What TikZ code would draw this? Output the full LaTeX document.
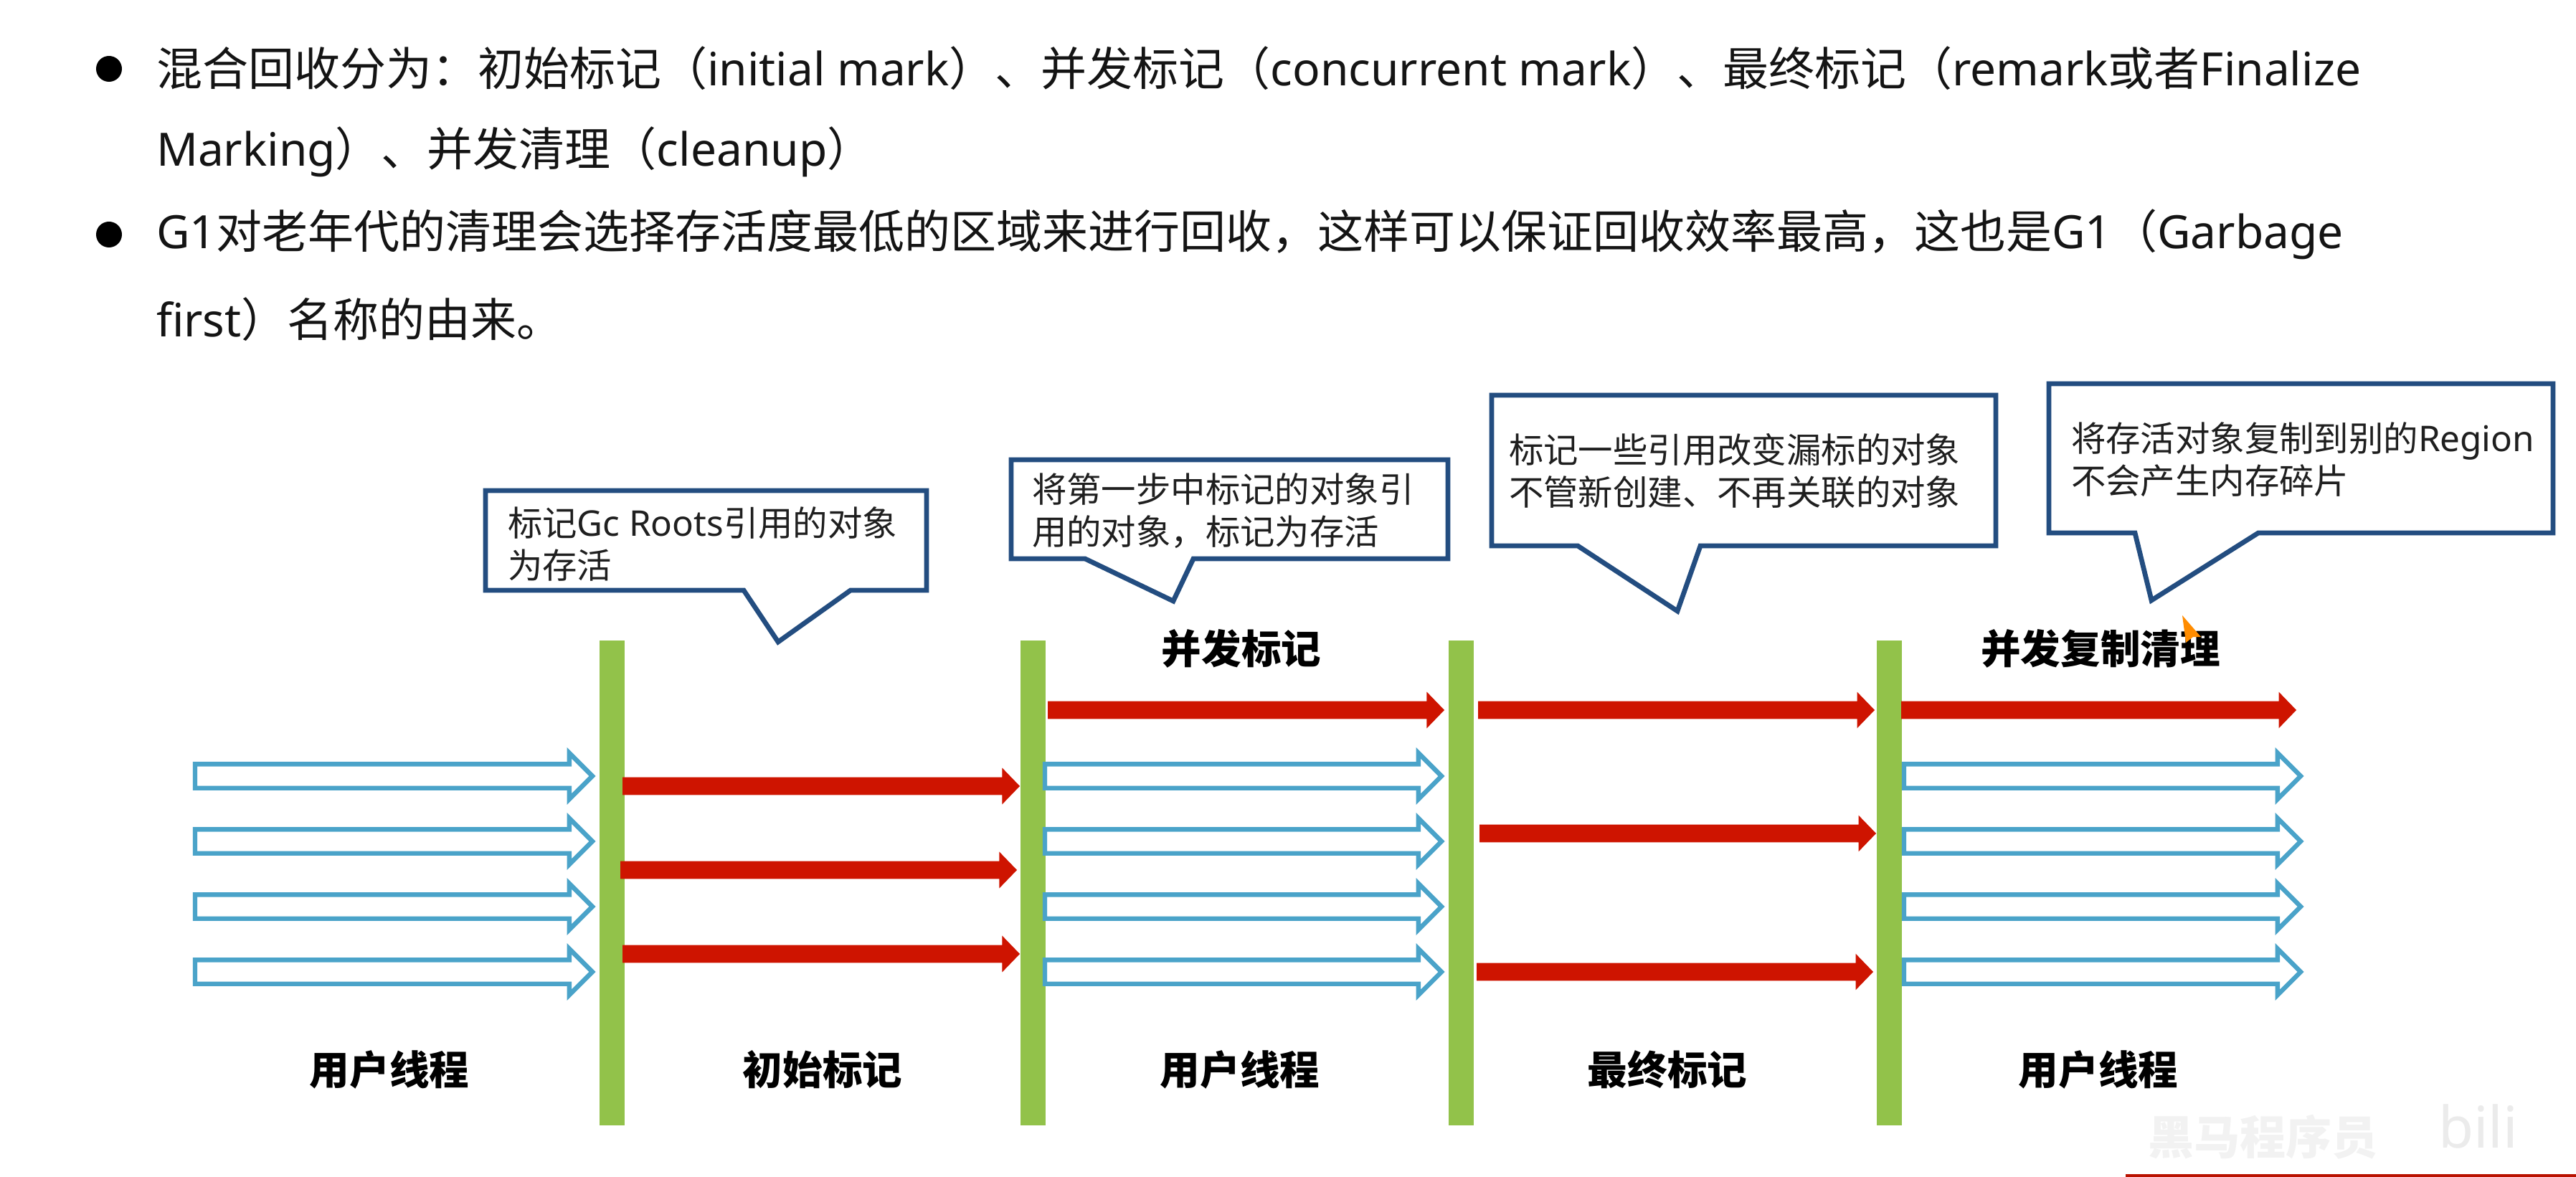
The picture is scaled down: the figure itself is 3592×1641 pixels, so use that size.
\documentclass[tikz,border=0pt]{standalone}
\usepackage{fontspec}
\setmainfont{Noto Sans CJK SC}
\newfontfamily\lat{Noto Sans}
\newfontfamily\latc[Scale=1.02]{Noto Sans}
\usetikzlibrary{shapes.arrows}
\definecolor{barg}{HTML}{92C24A}
\definecolor{redarr}{HTML}{CE1400}
\definecolor{bluearr}{HTML}{4AA3C9}
\definecolor{calloutb}{HTML}{234D80}
\newcommand{\E}[1]{{\lat #1}}
\newcommand{\Ec}[1]{{\latc #1}}
\tikzset{
  x=0.5pt,y=-0.5pt,
  barbox/.style={rectangle,fill=barg,draw=none,inner sep=0,outer sep=0,minimum width=17.5pt,minimum height=338pt},
  bluearrow/.style={single arrow,draw=bluearr,line width=3.2pt,fill=white,inner xsep=0,inner ysep=6.75pt,outer sep=0,
    single arrow head extend=7.75pt,single arrow tip angle=90,single arrow head indent=0pt,anchor=tail},
  redarrow/.style={single arrow,draw=none,fill=redarr,inner xsep=0,inner ysep=6pt,outer sep=0,
    single arrow head extend=6.5pt,single arrow tip angle=92,single arrow head indent=0pt,anchor=tail},
  bodytext/.style={inner sep=0,outer sep=0,anchor=west,text=black!92,font=\fontsize{32}{36}\selectfont},
  bulletdot/.style={circle,fill=black,inner sep=0,outer sep=0,minimum size=18pt},
  calloutbox/.style={draw=calloutb,line width=3.4pt,fill=white,line join=miter},
  callouttext/.style={inner sep=0,outer sep=0,anchor=west,align=left,text=black!88,font=\fontsize{24.2}{29.5}\selectfont},
  stagelabel/.style={inner sep=0,outer sep=0,text=black,font=\fontsize{27.8}{32}\selectfont\bfseries},
  marktext/.style={inner sep=0,outer sep=0,anchor=west,text=black!5,font=\fontsize{32}{36}\selectfont\bfseries},
  logotext/.style={inner sep=0,outer sep=0,anchor=base west,text=black!8,font=\lat\fontsize{40}{44}\selectfont\bfseries},
}
\newcommand{\bluearr}[4]{\node[bluearrow,minimum height={(#3-#2)*0.5pt}] (#1) at (#2,#4) {};}
\newcommand{\redarr}[4]{\node[redarrow,minimum height={(#3-#2)*0.5pt}] (#1) at (#2,#4) {};}
\begin{document}
\begin{tikzpicture}
\useasboundingbox (0,0) rectangle (3592,1641);
\fill[white] (0,0) rectangle (3592,1641);
% bullets and body text
\node[bulletdot] (b1) at (152,96) {};
\node[bulletdot] (b2) at (152,327) {};
\node[bodytext] (t1) at (218,95) {混合回收分为：初始标记（\E{initial mark}）、并发标记（\E{concurrent mark}）、最终标记（\E{remark}或者\E{Finalize}};
\node[bodytext] (t2) at (218,212) {\E{Marking}）、并发清理（\E{cleanup}）};
\node[bodytext] (t3) at (218,327) {\E{G1}对老年代的清理会选择存活度最低的区域来进行回收，这样可以保证回收效率最高，这也是\E{G1}（\E{Garbage}};
\node[bodytext] (t4) at (218,445) {\E{first}）名称的由来。};
% callouts
\draw[calloutbox] (677,684) -- (1292,684) -- (1292,823) -- (1186,823) -- (1085,895) -- (1037,823) -- (677,823) -- cycle;
\node[callouttext] (c1) at (708,758) {标记\Ec{Gc Roots}引用的对象\\为存活};
\draw[calloutbox] (1410,641) -- (2019,641) -- (2019,779) -- (1664,779) -- (1636,838) -- (1513,779) -- (1410,779) -- cycle;
\node[callouttext] (c2) at (1439,712) {将第一步中标记的对象引\\用的对象，标记为存活};
\draw[calloutbox] (2080,551) -- (2783,551) -- (2783,761) -- (2371,761) -- (2339,852) -- (2200,761) -- (2080,761) -- cycle;
\node[callouttext] (c3) at (2104,657) {标记一些引用改变漏标的对象\\不管新创建、不再关联的对象};
\draw[calloutbox] (2857,535) -- (3560,535) -- (3560,743) -- (3149,743) -- (3000,837) -- (2977,743) -- (2857,743) -- cycle;
\node[callouttext] (c4) at (2888,641) {将存活对象复制到别的\Ec{Region}\\不会产生内存碎片};
% bars
\node[barbox] (bar1) at (853,1231) {};
\node[barbox] (bar2) at (1440,1231) {};
\node[barbox] (bar3) at (2037,1231) {};
\node[barbox] (bar4) at (2634,1231) {};
% blue arrows
\foreach \i/\yy in {1/1082,2/1173,3/1264,4/1355}{
  \bluearr{ua\i}{272}{826}{\yy}
  \bluearr{ub\i}{1457}{2010}{\yy}
  \bluearr{uc\i}{2655}{3208}{\yy}
}
% red arrows
\redarr{ra1}{868}{1422}{1096}
\redarr{ra2}{865}{1418}{1213}
\redarr{ra3}{868}{1422}{1330}
\redarr{rb1}{1461}{2014}{990}
\redarr{rc1}{2061}{2614}{990}
\redarr{rc2}{2063}{2616}{1162}
\redarr{rc3}{2059}{2612}{1355}
\redarr{rd1}{2651}{3202}{990}
% stage labels
\node[stagelabel] (l1) at (543,1491) {用户线程};
\node[stagelabel] (l2) at (1147,1491) {初始标记};
\node[stagelabel] (l3) at (1729,1491) {用户线程};
\node[stagelabel] (l4) at (2325,1491) {最终标记};
\node[stagelabel] (l5) at (2926,1491) {用户线程};
\node[stagelabel] (l6) at (1731,904) {并发标记};
\node[stagelabel] (l7) at (2929,904) {并发复制清理};
% cursor
\fill[orange!90!yellow] (3043,858) -- (3069,888) -- (3058,888) -- (3048,896) -- cycle;
% bottom strip and watermark
\fill[redarr!90!black] (2964,1637) rectangle (3592,1641);
\node[marktext] (wm1) at (2995,1585) {黑马程序员};
\node[logotext] (wm2) at (3400,1600) {bili};
\end{tikzpicture}
\end{document}
